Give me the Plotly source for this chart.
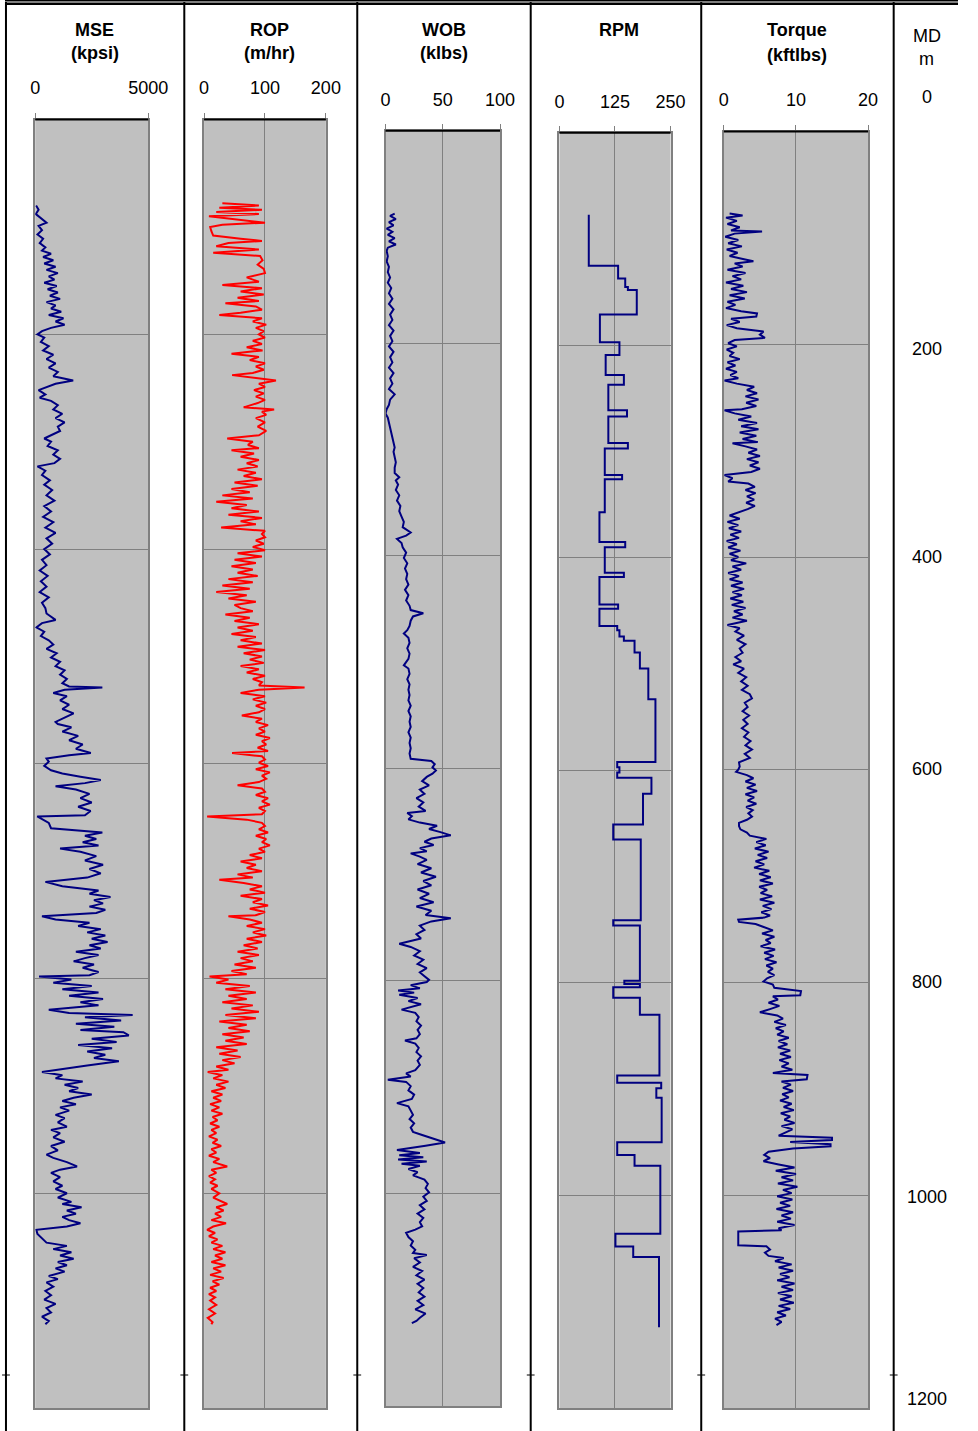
import plotly.graph_objects as go

# ---------------- data ----------------
md_ticks = [0, 200, 400, 600, 800, 1000, 1200]

mse_depth = [80, 84, 88, 92, 96, 99, 103, 107, 111, 115,
             119, 122, 125, 128, 131, 134, 137, 140, 143, 146,
             149, 152, 155, 158, 161, 164, 167, 170, 173, 176,
             179, 182, 185, 188, 191, 194, 197, 200, 203, 207,
             211, 215, 219, 223, 227, 231, 235, 239, 243, 246,
             249, 252, 256, 259, 262, 266, 270, 274, 278, 282,
             286, 290, 294, 297, 300, 304, 308, 312, 316, 320,
             323, 327, 331, 336, 340, 345, 350, 355, 360, 365,
             370, 375, 380, 385, 390, 395, 400, 405, 410, 415,
             420, 425, 430, 435, 440, 445, 450, 455, 460, 466,
             469, 473, 477, 481, 485, 489, 493, 497, 501, 505,
             509, 513, 517, 521, 525, 528, 529, 531, 534, 537,
             541, 545, 549, 553, 557, 561, 563, 566, 570, 574,
             578, 582, 586, 590, 592, 595, 598, 602, 606, 609,
             612, 615, 618, 621, 624, 628, 632, 636, 640, 644,
             648, 649, 655, 660, 664, 667, 670, 673, 676, 679,
             682, 686, 690, 694, 698, 702, 706, 710, 714, 718,
             721, 724, 727, 730, 733, 736, 739, 742, 745, 748,
             751, 754, 757, 760, 763, 766, 769, 772, 775, 778,
             781, 784, 787, 790, 794, 797, 798, 801, 804, 807,
             810, 813, 816, 819, 822, 825, 829, 832, 834, 836,
             839, 842, 845, 848, 850, 853, 856, 859, 862, 865,
             868, 871, 874, 877, 881, 884, 887, 890, 893, 896,
             899, 902, 905, 908, 911, 914, 917, 920, 923, 927,
             930, 934, 938, 941, 944, 948, 952, 956, 960, 964,
             967, 971, 975, 978, 981, 985, 989, 993, 996, 1000,
             1004, 1008, 1010, 1013, 1016, 1019, 1022, 1025, 1028, 1031,
             1034, 1038, 1042, 1046, 1049, 1052, 1055, 1058, 1061, 1064,
             1067, 1070, 1073, 1077, 1080, 1083, 1087, 1091, 1095, 1099,
             1103, 1107, 1111, 1115, 1119, 1122]
mse_kpsi = [40, 150, 30, 250, 500, 150, 300, 100, 350, 200,
            450, 300, 700, 350, 800, 400, 900, 500, 1000, 600,
            850, 400, 950, 550, 1000, 650, 1100, 500, 900, 700,
            1150, 600, 1250, 900, 1300, 700, 300, 100, 400, 250,
            600, 350, 800, 500, 900, 600, 1000, 800, 1680, 900,
            500, 150, 450, 200, 700, 1000, 800, 1200, 900, 1300,
            1000, 1100, 700, 400, 700, 550, 1000, 800, 1100, 850,
            100, 450, 300, 650, 400, 750, 500, 850, 400, 700,
            350, 800, 450, 900, 500, 750, 400, 650, 300, 500,
            200, 550, 250, 500, 200, 600, 300, 450, 500, 900,
            300, 50, 400, 250, 600, 800, 500, 950, 700, 1100,
            900, 1300, 1100, 1400, 1200, 1500, 2970, 1300, 800, 1400,
            1100, 1500, 1200, 1700, 1300, 900, 1000, 1600, 1200, 1900,
            1500, 2100, 1800, 2460, 1500, 500, 600, 400, 700, 1200,
            2000, 2900, 2200, 900, 1800, 2400, 2000, 2500, 1900, 2450,
            2200, 90, 600, 700, 2970, 2200, 2700, 2100, 2800, 1100,
            2000, 2700, 2200, 3000, 2400, 2900, 2300, 450, 1200, 2800,
            2400, 3330, 2600, 3000, 2400, 3100, 2700, 300, 900, 2400,
            1900, 2900, 2300, 3100, 2500, 3200, 2400, 2900, 1800, 2800,
            2200, 1700, 2600, 2100, 2800, 2400, 170, 1600, 800, 2500,
            1200, 2800, 1500, 3000, 2000, 2800, 600, 1500, 4310, 2200,
            3800, 1800, 3500, 2000, 3900, 4140, 2500, 3600, 1900, 3400,
            2300, 3100, 2600, 3700, 2300, 1400, 300, 1200, 900, 2100,
            1300, 1900, 1500, 2500, 1700, 1200, 1800, 1100, 1500, 900,
            1300, 1000, 1400, 700, 1100, 800, 1300, 700, 1000, 500,
            800, 1400, 1850, 1100, 700, 1100, 800, 1200, 900, 1400,
            1000, 1600, 1200, 2050, 1400, 1800, 1200, 1500, 2000, 1400,
            50, 100, 300, 500, 1400, 800, 1600, 1100, 1700, 1000,
            1400, 900, 1300, 600, 1000, 500, 800, 450, 700, 400,
            900, 500, 700, 300, 600, 450]

rop_depth = [78, 80, 82, 84, 86, 88, 90, 93, 96, 98,
             100, 104, 108, 111, 113, 115, 118, 121, 124, 127,
             131, 135, 139, 143, 147, 151, 154, 157, 160, 163,
             166, 169, 171, 174, 177, 180, 182, 185, 188, 191,
             194, 197, 200, 203, 206, 209, 212, 215, 218, 221,
             224, 227, 230, 233, 236, 238, 241, 243, 246, 249,
             252, 255, 258, 261, 264, 268, 270, 272, 275, 278,
             282, 286, 290, 294, 297, 300, 303, 306, 308, 311,
             314, 317, 320, 323, 326, 329, 332, 335, 338, 341,
             344, 347, 350, 353, 356, 359, 362, 365, 368, 371,
             374, 377, 380, 383, 386, 389, 392, 395, 398, 401,
             404, 407, 410, 413, 416, 419, 422, 425, 428, 431,
             434, 437, 440, 443, 446, 449, 452, 455, 458, 461,
             464, 467, 470, 473, 476, 479, 482, 485, 488, 491,
             494, 497, 500, 503, 506, 509, 512, 515, 518, 521,
             524, 527, 529, 531, 534, 537, 540, 543, 546, 549,
             552, 555, 558, 561, 564, 567, 570, 573, 576, 579,
             582, 585, 588, 590, 593, 596, 599, 602, 605, 608,
             611, 614, 617, 620, 623, 626, 629, 632, 635, 638,
             641, 644, 647, 649, 652, 655, 658, 661, 664, 667,
             670, 673, 676, 679, 682, 685, 688, 691, 694, 697,
             700, 703, 706, 708, 711, 714, 717, 720, 723, 726,
             729, 732, 735, 738, 741, 742, 745, 748, 751, 754,
             757, 760, 763, 766, 769, 772, 775, 778, 781, 784,
             787, 790, 793, 796, 798, 801, 804, 807, 810, 813,
             816, 819, 822, 825, 828, 831, 834, 837, 840, 843,
             846, 849, 852, 855, 858, 861, 864, 867, 870, 873,
             876, 879, 882, 885, 887, 890, 893, 896, 899, 902,
             905, 908, 911, 914, 917, 920, 923, 926, 929, 932,
             935, 938, 941, 944, 947, 950, 953, 956, 959, 962,
             965, 968, 971, 975, 978, 981, 984, 987, 990, 993,
             996, 1000, 1004, 1008, 1010, 1013, 1016, 1019, 1022, 1025,
             1028, 1031, 1034, 1037, 1040, 1043, 1046, 1049, 1052, 1055,
             1058, 1061, 1064, 1067, 1070, 1073, 1076, 1079, 1082, 1085,
             1088, 1091, 1094, 1097, 1100, 1104, 1108, 1112, 1116, 1120,
             1122]
rop_mhr = [30, 90, 25, 95, 20, 90, 8, 60, 100, 30,
           10, 12, 15, 60, 95, 40, 20, 90, 15, 92,
           96, 88, 98, 100, 70, 90, 30, 95, 60, 98,
           55, 90, 35, 85, 95, 60, 25, 95, 80, 102,
           85, 98, 90, 100, 80, 95, 70, 96, 45, 90,
           75, 100, 85, 98, 80, 46, 85, 118, 90, 100,
           82, 98, 85, 100, 88, 65, 115, 95, 102, 85,
           100, 88, 102, 90, 38, 80, 72, 90, 45, 82,
           60, 90, 70, 88, 55, 85, 65, 95, 50, 88,
           45, 75, 30, 80, 20, 70, 45, 90, 40, 95,
           60, 85, 28, 100, 95, 100, 85, 98, 80, 100,
           55, 95, 50, 85, 45, 80, 55, 88, 40, 80,
           30, 75, 20, 70, 40, 85, 50, 60, 80, 35,
           75, 50, 90, 55, 80, 45, 85, 60, 95, 55,
           100, 65, 95, 75, 98, 60, 90, 70, 100, 80,
           95, 90, 165, 90, 60, 100, 80, 102, 85, 100,
           90, 62, 95, 85, 105, 90, 100, 85, 108, 95,
           102, 88, 105, 46, 95, 100, 90, 105, 85, 108,
           95, 102, 90, 55, 95, 100, 85, 105, 95, 108,
           90, 100, 95, 5, 70, 95, 100, 90, 105, 85,
           102, 95, 108, 90, 100, 75, 95, 60, 85, 70,
           95, 55, 80, 25, 65, 95, 75, 100, 60, 95,
           80, 105, 75, 100, 85, 40, 75, 95, 70, 100,
           80, 102, 70, 95, 65, 88, 55, 90, 60, 80,
           50, 85, 45, 70, 9, 40, 20, 75, 35, 85,
           40, 70, 30, 80, 45, 90, 35, 85, 25, 70,
           40, 75, 30, 65, 35, 70, 20, 55, 25, 60,
           30, 50, 20, 40, 6, 30, 15, 40, 20, 35,
           12, 30, 15, 28, 10, 25, 12, 30, 14, 22,
           10, 25, 12, 20, 8, 22, 14, 28, 12, 20,
           8, 25, 15, 38, 12, 20, 8, 18, 10, 22,
           12, 25, 15, 30, 38, 20, 32, 18, 28, 12,
           36, 15, 5, 18, 8, 22, 12, 30, 15, 35,
           18, 30, 12, 35, 15, 28, 10, 32, 14, 25,
           10, 20, 8, 18, 10, 20, 8, 18, 6, 14,
           12]

wob_depth = [78, 80, 83, 86, 89, 92, 95, 98, 101, 104,
             107, 110, 113, 118, 123, 128, 133, 138, 143, 148,
             153, 158, 163, 168, 173, 178, 183, 188, 193, 198,
             203, 208, 213, 218, 223, 228, 233, 238, 243, 248,
             253, 258, 262, 266, 270, 275, 280, 285, 290, 295,
             298, 302, 307, 312, 317, 322, 326, 329, 333, 338,
             343, 348, 353, 358, 363, 368, 373, 378, 381, 384,
             388, 392, 397, 402, 407, 412, 417, 422, 427, 432,
             437, 442, 447, 451, 454, 457, 461, 466, 470, 473,
             477, 482, 487, 492, 497, 503, 506, 511, 516, 521,
             526, 531, 536, 541, 546, 551, 556, 561, 566, 571,
             576, 581, 586, 591, 593, 596, 599, 602, 605, 608,
             612, 616, 620, 624, 628, 632, 636, 640, 642, 645,
             648, 651, 654, 657, 660, 663, 666, 669, 672, 675,
             678, 680, 683, 686, 690, 694, 698, 702, 706, 710,
             714, 718, 722, 726, 730, 734, 738, 741, 744, 748,
             752, 756, 760, 765, 768, 772, 776, 780, 784, 788,
             792, 796, 799, 801, 804, 807, 809, 811, 813, 816,
             819, 822, 827, 830, 834, 838, 842, 846, 850, 854,
             856, 859, 863, 867, 871, 875, 879, 884, 887, 890,
             893, 895, 899, 903, 907, 911, 915, 918, 922, 926,
             930, 934, 938, 942, 945, 948, 950, 952, 955, 959,
             962, 964, 966, 968, 970, 972, 974, 977, 980, 983,
             987, 991, 995, 999, 1003, 1007, 1011, 1015, 1019, 1023,
             1027, 1031, 1034, 1037, 1041, 1045, 1049, 1053, 1056, 1058,
             1061, 1065, 1069, 1073, 1077, 1081, 1085, 1089, 1093, 1097,
             1101, 1105, 1109, 1113, 1117, 1120, 1122]
wob_klbs = [8, 4, 9, 3, 7, 1, 6, 2, 8, 3,
            9, 2, 1, 2, 1, 3, 2, 4, 2, 5,
            3, 6, 3, 7, 4, 6, 3, 7, 4, 6,
            3, 7, 4, 6, 3, 7, 4, 6, 3, 8,
            4, 3, 1, 0, 2, 3, 4, 5, 6, 7,
            8, 7, 8, 9, 8, 8, 12, 9, 11, 9,
            12, 10, 13, 12, 14, 16, 15, 22, 18, 10,
            14, 15, 18, 16, 19, 17, 19, 18, 20, 17,
            20, 18, 21, 22, 33, 24, 22, 21, 19, 16,
            20, 21, 19, 21, 20, 16, 20, 21, 19, 21,
            20, 21, 20, 22, 20, 22, 21, 22, 20, 22,
            21, 22, 21, 22, 40, 43, 41, 44, 41, 36,
            32, 38, 30, 34, 27, 33, 29, 35, 19, 23,
            20, 30, 45, 38, 48, 57, 40, 34, 42, 30,
            36, 22, 30, 36, 28, 40, 31, 44, 33, 40,
            28, 38, 30, 42, 27, 40, 35, 57, 40, 30,
            34, 27, 31, 12, 22, 30, 25, 33, 28, 36,
            30, 35, 38, 36, 22, 30, 11, 25, 12, 28,
            20, 31, 14, 26, 29, 27, 31, 28, 30, 27,
            17, 26, 29, 27, 31, 28, 30, 26, 18, 22,
            2, 18, 22, 20, 25, 23, 10, 20, 22, 24,
            21, 25, 22, 24, 32, 40, 45, 52, 35, 10,
            30, 12, 33, 11, 36, 14, 30, 20, 28, 24,
            34, 37, 35, 38, 33, 36, 30, 34, 28, 33,
            30, 32, 26, 18, 20, 24, 22, 26, 24, 36,
            25, 30, 24, 32, 27, 34, 28, 33, 29, 34,
            28, 33, 26, 35, 30, 27, 23]

# RPM is a step log: each entry is the start depth of a constant level
rpm_depth = [77, 125, 137, 145, 148, 171, 197, 209, 228, 237,
             261, 267, 292, 297, 322, 326, 357, 385, 390, 414,
             418, 444, 448, 464, 468, 474, 478, 489, 504, 533,
             592, 597, 602, 607, 622, 651, 665, 741, 746, 798,
             801, 804, 814, 830, 887, 894, 899, 908, 950, 962,
             972, 1036, 1048, 1058, 1124]
rpm_val = [66, 132, 148, 154, 174, 91, 135, 104, 145, 110,
           152, 110, 154, 102, 141, 102, 90, 148, 102, 145,
           90, 132, 90, 130, 135, 145, 169, 181, 200, 216,
           130, 135, 130, 207, 188, 121, 183, 121, 181, 146,
           181, 121, 181, 225, 130, 229, 218, 230, 130, 169,
           227, 126, 166, 224, 224]

tq_depth = [77, 79, 81, 84, 87, 90, 93, 94, 96, 99,
            102, 105, 108, 111, 114, 117, 120, 122, 124, 127,
            130, 133, 136, 139, 142, 145, 148, 151, 154, 157,
            160, 163, 166, 169, 171, 174, 176, 179, 182, 185,
            188, 191, 194, 196, 199, 202, 205, 208, 211, 214,
            217, 220, 223, 226, 229, 232, 234, 237, 240, 243,
            246, 249, 252, 255, 258, 261, 262, 265, 268, 271,
            274, 277, 280, 283, 286, 289, 292, 293, 296, 299,
            302, 305, 308, 311, 314, 317, 320, 323, 326, 329,
            331, 334, 337, 340, 343, 346, 349, 352, 355, 358,
            361, 364, 367, 370, 373, 376, 379, 382, 385, 388,
            391, 394, 397, 400, 403, 406, 409, 412, 415, 418,
            421, 424, 427, 430, 433, 436, 439, 442, 445, 448,
            451, 454, 457, 460, 462, 464, 467, 470, 474, 478,
            482, 486, 490, 494, 498, 501, 505, 509, 513, 517,
            521, 525, 529, 533, 537, 541, 545, 549, 553, 557,
            561, 565, 569, 573, 577, 581, 585, 589, 593, 597,
            600, 602, 605, 608, 611, 614, 617, 620, 623, 626,
            629, 632, 635, 638, 641, 644, 647, 650, 653, 656,
            659, 662, 665, 668, 671, 674, 677, 680, 683, 686,
            689, 692, 695, 698, 701, 704, 707, 710, 713, 716,
            719, 722, 725, 728, 731, 734, 737, 739, 741, 743,
            745, 748, 751, 754, 757, 760, 763, 766, 769, 772,
            775, 778, 781, 784, 787, 790, 793, 796, 799, 802,
            805, 808, 812, 813, 816, 819, 822, 825, 828, 831,
            834, 837, 840, 843, 846, 849, 852, 855, 858, 861,
            864, 867, 870, 873, 876, 879, 882, 885, 887, 891,
            893, 896, 899, 902, 905, 908, 911, 914, 917, 920,
            923, 926, 929, 932, 935, 938, 941, 944, 946, 948,
            950, 952, 954, 956, 959, 962, 965, 968, 971, 974,
            977, 980, 983, 986, 989, 992, 995, 998, 1001, 1004,
            1007, 1010, 1013, 1016, 1019, 1022, 1025, 1028, 1031, 1033,
            1034, 1047, 1048, 1051, 1054, 1057, 1059, 1062, 1065, 1068,
            1071, 1074, 1077, 1080, 1083, 1086, 1089, 1092, 1095, 1098,
            1101, 1104, 1107, 1110, 1113, 1116, 1119, 1122]
tq_kftlbs = [0.8, 2.6, 0.3, 1.8, 0.5, 2.2, 1.0, 5.3, 1.5, 0.2,
             2.0, 0.6, 2.5, 0.4, 1.9, 0.8, 2.8, 4.1, 1.5, 2.6,
             0.5, 3.0, 1.2, 2.4, 0.3, 2.7, 1.0, 3.2, 0.8, 2.9,
             0.5, 1.6, 0.3, 2.4, 4.6, 4.5, 1.0, 2.2, 0.4, 1.8,
             5.5, 5.0, 5.7, 1.5, 0.6, 1.8, 0.4, 1.3, 0.8, 2.2,
             0.5, 1.6, 0.3, 1.8, 0.9, 2.0, 0.1, 1.8, 4.2, 3.2,
             4.6, 3.0, 4.8, 3.1, 4.5, 2.5, 0.1, 1.5, 3.8, 2.0,
             4.6, 2.4, 4.8, 2.2, 4.5, 2.6, 4.7, 1.2, 3.0, 4.6,
             3.4, 5.0, 3.2, 4.8, 3.6, 5.0, 3.8, 0.1, 1.2, 0.6,
             3.4, 4.3, 3.0, 4.4, 3.2, 4.2, 3.1, 4.3, 3.3, 1.9,
             0.8, 2.2, 0.5, 2.0, 0.7, 2.4, 0.9, 2.1, 0.4, 1.8,
             0.6, 2.3, 0.8, 2.0, 1.0, 3.1, 1.2, 2.4, 0.6, 2.1,
             0.8, 2.6, 1.0, 2.8, 1.2, 2.5, 0.9, 2.7, 1.1, 3.0,
             1.4, 2.6, 1.2, 3.2, 1.8, 0.5, 2.2, 1.6, 2.8, 1.8,
             3.0, 2.2, 2.6, 1.6, 2.4, 1.3, 2.8, 2.0, 3.1, 2.4,
             3.3, 2.5, 3.6, 3.9, 2.9, 3.3, 2.6, 3.5, 2.7, 3.3,
             2.5, 3.4, 2.8, 3.7, 3.0, 3.9, 2.9, 3.6, 2.1, 2.2,
             2.0, 1.7, 3.2, 4.1, 3.0, 4.4, 3.2, 4.6, 3.0, 4.2,
             3.3, 4.5, 3.1, 4.0, 3.4, 3.9, 3.2, 2.1, 2.1, 2.3,
             3.2, 3.6, 5.9, 4.5, 5.8, 4.3, 6.2, 4.7, 6.0, 4.4,
             5.6, 4.2, 6.3, 4.9, 6.5, 5.0, 6.8, 4.9, 6.0, 5.1,
             6.7, 5.0, 7.0, 5.4, 6.6, 5.2, 6.4, 5.6, 2.0, 2.1,
             4.4, 5.5, 6.8, 5.3, 7.0, 5.8, 6.5, 5.1, 7.1, 5.6,
             6.9, 5.7, 7.3, 5.9, 6.8, 6.1, 7.0, 6.0, 5.5, 6.8,
             7.0, 10.7, 10.6, 6.8, 7.5, 6.2, 7.7, 6.4, 5.0, 7.4,
             8.2, 7.0, 8.6, 7.2, 8.3, 7.4, 9.0, 7.6, 8.8, 7.5,
             9.2, 7.8, 9.3, 7.7, 9.0, 8.0, 9.5, 6.8, 11.6, 11.5,
             8.0, 9.3, 8.2, 9.6, 8.1, 9.0, 7.8, 9.4, 8.3, 9.7,
             7.9, 9.2, 8.4, 9.8, 8.0, 9.5, 8.6, 7.6, 15.0, 15.0,
             9.2, 14.8, 14.8, 9.6, 6.2, 5.6, 6.4, 5.5, 7.6, 9.8,
             7.2, 10.0, 8.0, 9.6, 7.5, 10.2, 8.2, 9.4, 7.4, 9.5,
             7.8, 9.2, 7.3, 9.6, 8.0, 9.3, 7.4, 9.8, 7.6, 8.0,
             2.0, 2.0, 5.9, 6.4, 5.7, 6.2, 8.3, 7.1, 9.4, 7.6,
             9.6, 7.8, 9.1, 7.4, 9.8, 8.0, 9.6, 7.5, 9.4, 7.8,
             9.7, 7.6, 9.2, 7.4, 8.6, 7.1, 8.0, 7.3]

# ---------------- layout ----------------
W, H = 978, 1431
FONT = "Liberation Sans, Arial, sans-serif"
NAVY = "#000080"
GRID = "#808080"

def fx(px):
    return px / W

def fy(py):
    return 1 - py / H

# (title lines, depth, values, colour, x-range, tick values, left px, right px, top px, bottom px, header x, shape)
tracks = [
    (["MSE", "(kpsi)"], mse_depth, mse_kpsi, NAVY, [0, 5000], [0, 5000], 31, 147, 119.6, 1408, 92, "linear"),
    (["ROP", "(m/hr)"], rop_depth, rop_mhr, "#FF0000", [0, 200], [0, 100, 200], 204.3, 329.3, 119.6, 1408, 271, "linear"),
    (["WOB", "(klbs)"], wob_depth, wob_klbs, NAVY, [0, 100], [0, 50, 100], 390.5, 508, 130.8, 1406, 451, "linear"),
    (["RPM"], rpm_depth, rpm_val, NAVY, [0, 250], [0, 125, 250], 569, 683, 132.8, 1408, 630, "vh"),
    (["Torque", "(kftlbs)"], tq_depth, tq_kftlbs, NAVY, [0, 20], [0, 10, 20], 737.7, 885.7, 131.5, 1408, 813, "linear"),
]

fig = go.Figure()
layout = dict(
    width=W, height=H, autosize=False, margin=dict(l=0, r=0, t=0, b=0, pad=0),
    paper_bgcolor="white", plot_bgcolor="#C0C0C0", showlegend=False,
    font=dict(family=FONT, color="black", size=18),
)
annotations = []
shapes = []

for i, (title, dep, val, col, rng, tv, xl, xr, yt, yb, hx, shp) in enumerate(tracks):
    k = "" if i == 0 else str(i + 1)
    fig.add_trace(go.Scatter(
        x=val, y=dep, mode="lines", line=dict(color=col, width=2, shape=shp),
        xaxis="x" + k, yaxis="y" + k, hoverinfo="skip"))
    layout["xaxis" + k] = dict(
        domain=[fx(xl), fx(xr)], range=rng, side="top", anchor="y" + k,
        tickmode="array", tickvals=tv, ticktext=[str(t) for t in tv],
        ticks="outside", ticklen=5, tickcolor=GRID, tickwidth=1,
        ticklabelstandoff=11,
        showgrid=True, gridcolor=GRID, gridwidth=1, zeroline=False,
        showline=True, linecolor=GRID, linewidth=2, mirror=True,
        tickfont=dict(family=FONT, size=18, color="black"), fixedrange=True)
    layout["yaxis" + k] = dict(
        domain=[fy(yb), fy(yt)], range=[1200, 0], anchor="x" + k,
        tickmode="array", tickvals=md_ticks, showticklabels=False, ticks="",
        showgrid=True, gridcolor=GRID, gridwidth=1, zeroline=False,
        showline=True, linecolor=GRID, linewidth=2, mirror=True, fixedrange=True)
    # black top edge of each track frame
    shapes.append(dict(type="line", xref="x" + k + " domain", yref="y" + k + " domain",
                       x0=0, x1=1, y0=1, y1=1, line=dict(color="black", width=2)))
    # header text
    ys = [30, 53] if len(title) == 2 else [30]
    if title[0] == "Torque":
        ys = [30, 55]
    for t, yy in zip(title, ys):
        annotations.append(dict(text="<b>%s</b>" % t, x=fx(hx), y=fy(yy), xref="paper", yref="paper",
                                xanchor="center", yanchor="middle", showarrow=False,
                                font=dict(family=FONT, size=18, color="black")))

# MD column
annotations.append(dict(text="MD", x=fx(946), y=fy(36), xref="paper", yref="paper",
                        xanchor="center", yanchor="middle", showarrow=False,
                        font=dict(family=FONT, size=18, color="black")))
annotations.append(dict(text="m", x=fx(946), y=fy(59), xref="paper", yref="paper",
                        xanchor="center", yanchor="middle", showarrow=False,
                        font=dict(family=FONT, size=18, color="black")))
md_label_y = [97, 349, 557, 769, 982, 1197, 1399]
for v, yy in zip(md_ticks, md_label_y):
    annotations.append(dict(text=str(v), x=fx(946), y=fy(yy), xref="paper", yref="paper",
                            xanchor="center", yanchor="middle", showarrow=False,
                            font=dict(family=FONT, size=18, color="black")))

# column separators and top double rule
for sx in [1, 184, 361.5, 539.5, 714.5, 912]:
    shapes.append(dict(type="line", xref="paper", yref="paper", x0=fx(sx), x1=fx(sx),
                       y0=fy(2), y1=0, line=dict(color="black", width=2)))
    shapes.append(dict(type="line", xref="paper", yref="paper", x0=fx(sx - 4), x1=fx(sx + 4),
                       y0=fy(1375), y1=fy(1375), line=dict(color="black", width=1)))
shapes.append(dict(type="line", xref="paper", yref="paper", x0=0, x1=1,
                   y0=fy(0.7), y1=fy(0.7), line=dict(color="black", width=1.5)))
shapes.append(dict(type="line", xref="paper", yref="paper", x0=0, x1=1,
                   y0=fy(3.8), y1=fy(3.8), line=dict(color="black", width=2.6)))

layout["annotations"] = annotations
layout["shapes"] = shapes
fig.update_layout(**layout)
fig.write_html("out.html", config={"responsive": False, "displayModeBar": False})
